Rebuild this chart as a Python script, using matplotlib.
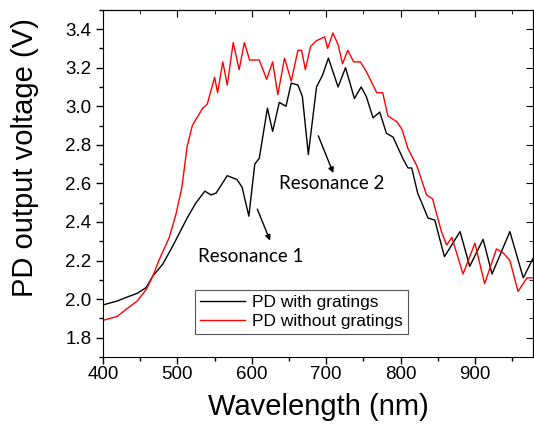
import matplotlib
matplotlib.use("Agg")
import matplotlib.pyplot as plt
from matplotlib.ticker import MultipleLocator

plt.rcParams['font.family'] = ['Liberation Sans', 'DejaVu Sans']

# PD with gratings (black)
wl_with = [400, 419, 432, 446, 458, 467, 480, 493, 513, 525, 537, 545, 552, 567, 580,
           587, 596, 604, 610, 621, 628, 637, 646, 653, 662, 668, 676, 687, 695, 703,
           716, 726, 738, 747, 754, 763, 772, 781, 790, 803, 810, 815, 823, 837, 846,
           859, 880, 893, 911, 923, 947, 965, 978]
v_with = [1.97, 1.99, 2.01, 2.03, 2.06, 2.12, 2.18, 2.27, 2.42, 2.50, 2.56, 2.54, 2.55, 2.64, 2.62,
          2.58, 2.43, 2.70, 2.73, 2.99, 2.87, 3.02, 3.00, 3.12, 3.11, 3.05, 2.75, 3.10, 3.16, 3.25,
          3.10, 3.20, 3.04, 3.10, 3.05, 2.94, 2.97, 2.86, 2.84, 2.73, 2.68, 2.68, 2.55, 2.42, 2.41,
          2.22, 2.35, 2.17, 2.31, 2.13, 2.35, 2.11, 2.21]

# PD without gratings (red)
wl_without = [400, 419, 432, 446, 458, 467, 475, 489, 498, 506, 513, 520, 534, 540, 550,
              554, 561, 567, 575, 583, 590, 597, 610, 620, 628, 635, 644, 653, 662, 667,
              672, 679, 687, 698, 702, 709, 716, 722, 729, 737, 746, 754, 768, 776, 783,
              795, 802, 810, 822, 835, 843, 855, 862, 869, 884, 900, 913, 929, 938, 947,
              958, 970, 978]
v_without = [1.89, 1.91, 1.95, 1.99, 2.05, 2.12, 2.20, 2.32, 2.44, 2.58, 2.79, 2.90, 2.99, 3.01, 3.15,
             3.07, 3.23, 3.11, 3.33, 3.19, 3.33, 3.24, 3.24, 3.14, 3.23, 3.06, 3.25, 3.13, 3.29, 3.29,
             3.19, 3.31, 3.34, 3.36, 3.30, 3.38, 3.32, 3.22, 3.29, 3.23, 3.23, 3.18, 3.07, 3.07, 2.95,
             2.92, 2.88, 2.78, 2.69, 2.54, 2.52, 2.35, 2.28, 2.32, 2.13, 2.29, 2.08, 2.26, 2.24, 2.20,
             2.04, 2.11, 2.11]

fig = plt.figure(figsize=(5.34, 4.28), dpi=100)
ax = fig.add_axes([0.193, 0.166, 0.805, 0.811])

ax.plot(wl_with, v_with, color='black', lw=1.0, label='PD with gratings')
ax.plot(wl_without, v_without, color='red', lw=1.0, label='PD without gratings')

ax.set_xlim(400, 978)
ax.set_ylim(1.7, 3.5)
ax.xaxis.set_major_locator(MultipleLocator(100))
ax.xaxis.set_minor_locator(MultipleLocator(50))
ax.yaxis.set_major_locator(MultipleLocator(0.2))
ax.yaxis.set_minor_locator(MultipleLocator(0.1))
ax.yaxis.set_major_formatter(matplotlib.ticker.FormatStrFormatter('%.1f'))
ax.tick_params(which='major', direction='out', length=5, width=1, labelsize=13.5)
ax.tick_params(which='minor', direction='out', length=3, width=1)
ax.tick_params(axis='x', pad=1.5)

# mirrored ticks pointing inward on top and right
top = ax.secondary_xaxis('top')
top.xaxis.set_major_locator(MultipleLocator(100))
top.xaxis.set_minor_locator(MultipleLocator(50))
top.tick_params(which='major', direction='in', length=5, labeltop=False)
top.tick_params(which='minor', direction='in', length=3)
right = ax.secondary_yaxis('right')
right.yaxis.set_major_locator(MultipleLocator(0.2))
right.yaxis.set_minor_locator(MultipleLocator(0.1))
right.tick_params(which='major', direction='in', length=5, labelright=False)
right.tick_params(which='minor', direction='in', length=3)

ax.set_xlabel('Wavelength (nm)', fontsize=21)
ax.set_ylabel('PD output voltage (V)', fontsize=21)
ax.xaxis.set_label_coords(0.5, -0.105)
ax.yaxis.set_label_coords(-0.15, 0.573)

ax.text(527, 2.22, 'Resonance 1', fontsize=13.5, family=['Lato', 'DejaVu Sans'], va='center')
ax.annotate('', xy=(626, 2.29), xytext=(606, 2.48),
            arrowprops=dict(arrowstyle='-|>', color='black', lw=1, mutation_scale=8))
ax.text(637, 2.60, 'Resonance 2', fontsize=13.5, family=['Lato', 'DejaVu Sans'], va='center')
ax.annotate('', xy=(711, 2.64), xytext=(688, 2.86),
            arrowprops=dict(arrowstyle='-|>', color='black', lw=1, mutation_scale=8))

leg = ax.legend(loc='lower left', bbox_to_anchor=(0.213, 0.066), fontsize=12.5,
                fancybox=False, framealpha=1, edgecolor='#555555',
                handlelength=2.6, handletextpad=0.4, borderpad=0.3, labelspacing=0.2,
                borderaxespad=0)
leg.get_frame().set_linewidth(0.8)

fig.savefig('out.png', dpi=100)
